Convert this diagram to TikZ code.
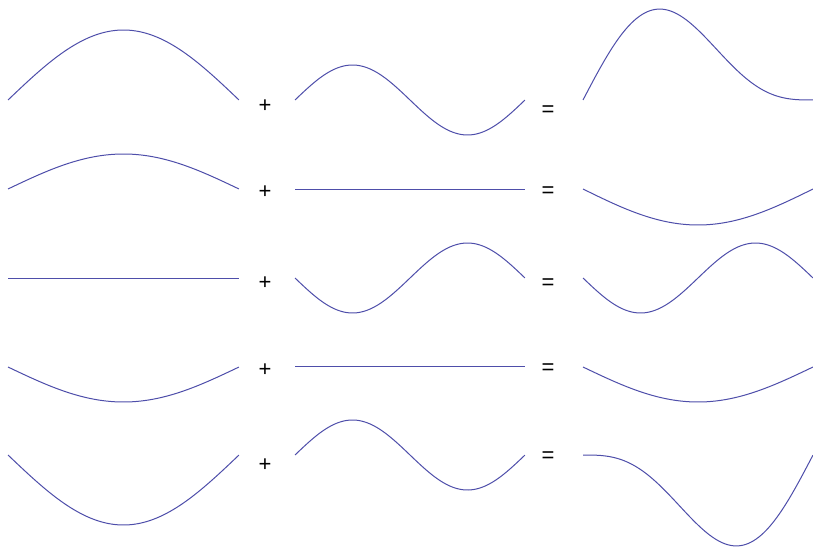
\documentclass[tikz,border=0pt]{standalone}
\usepackage{fontspec}
\setmainfont{Liberation Sans}
\definecolor{wavecol}{RGB}{78,78,170}
\begin{document}
\begin{tikzpicture}[x=1pt,y=-1pt,
  wave/.style={draw=wavecol,line width=1pt},
  op/.style={font=\fontsize{22}{22}\selectfont,inner sep=0pt,text=black}]
\useasboundingbox[fill=white] (0,0) rectangle (813,548);
% row 1 (base 100)
\draw[wave] plot[domain=0:1,samples=90,smooth] ({8+231*\x},{100-70*sin(180*\x)});
\draw[wave] plot[domain=0:1,samples=90,smooth] ({295+230*\x},{100-35*sin(360*\x)});
\draw[wave] plot[domain=0:1,samples=90,smooth] ({583+230*\x},{100-70*sin(180*\x)-35*sin(360*\x)});
\node[op] (p1) at (265,106) {+};
\node[op] (e1) at (548,111) {=};
% row 2 (base 189)
\draw[wave] plot[domain=0:1,samples=90,smooth] ({8+231*\x},{189-35*sin(180*\x)});
\draw[wave] (295,189) -- (525,189);
\draw[wave] plot[domain=0:1,samples=90,smooth] ({583+230*\x},{189+36*sin(180*\x)});
\node[op] (p2) at (265,192) {+};
\node[op] (e2) at (548,192) {=};
% row 3 (base 278)
\draw[wave] (8,278) -- (239,278);
\draw[wave] plot[domain=0:1,samples=90,smooth] ({295+230*\x},{278+35*sin(360*\x)});
\draw[wave] plot[domain=0:1,samples=90,smooth] ({583+230*\x},{278+35*sin(360*\x)});
\node[op] (p3) at (265,283) {+};
\node[op] (e3) at (548,284) {=};
% row 4 (base 367)
\draw[wave] plot[domain=0:1,samples=90,smooth] ({8+231*\x},{367+35*sin(180*\x)});
\draw[wave] (295,366) -- (525,366);
\draw[wave] plot[domain=0:1,samples=90,smooth] ({583+230*\x},{367+35*sin(180*\x)});
\node[op] (p4) at (265,370) {+};
\node[op] (e4) at (548,369) {=};
% row 5 (base 455)
\draw[wave] plot[domain=0:1,samples=90,smooth] ({8+231*\x},{455+70*sin(180*\x)});
\draw[wave] plot[domain=0:1,samples=90,smooth] ({295+230*\x},{455-35*sin(360*\x)});
\draw[wave] plot[domain=0:1,samples=90,smooth] ({583+230*\x},{455+70*sin(180*\x)-35*sin(360*\x)});
\node[op] (p5) at (265,465) {+};
\node[op] (e5) at (548,457) {=};
\end{tikzpicture}
\end{document}
